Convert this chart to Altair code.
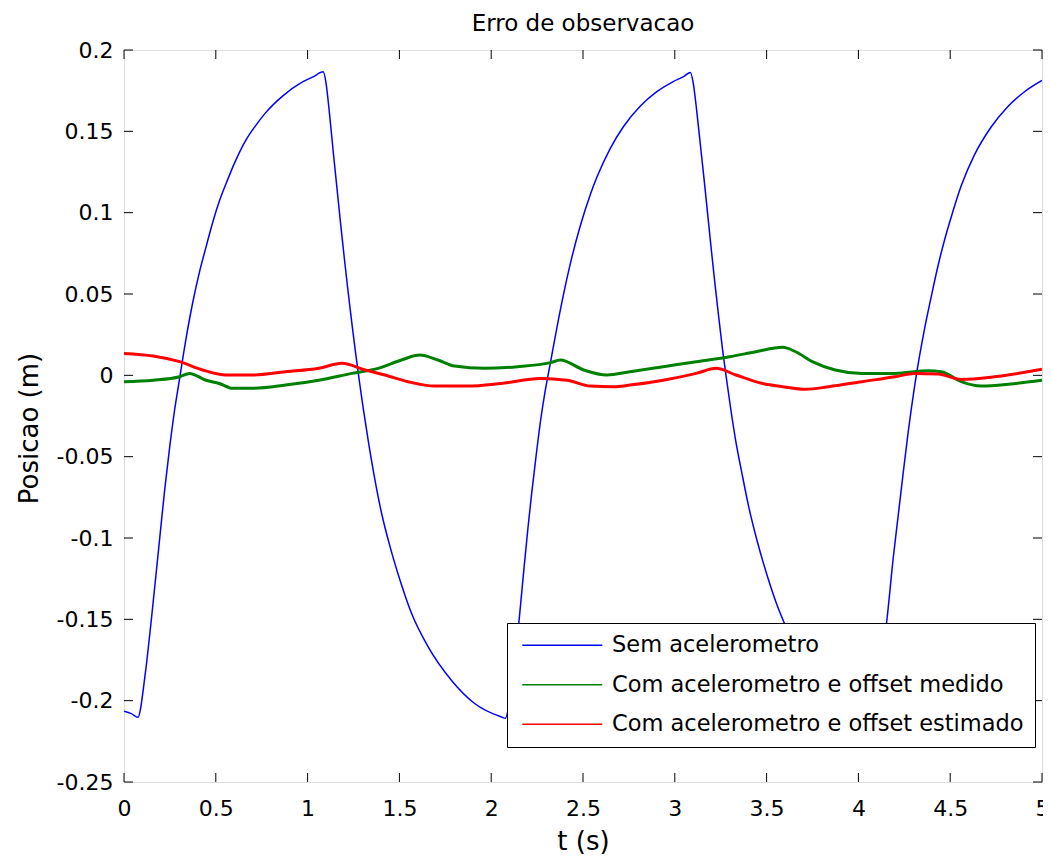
import altair as alt
import pandas as pd

# ---- data ----
t_blue = [0.0, 0.04, 0.077, 0.09, 0.105, 0.123, 0.15, 0.177, 0.20, 0.222, 0.249, 0.276, 0.30, 0.337,
          0.373, 0.41, 0.447, 0.483, 0.519, 0.56, 0.60, 0.664, 0.72, 0.772, 0.862, 0.97, 1.03, 1.085,
          1.10, 1.12, 1.14, 1.16, 1.18, 1.20, 1.22, 1.24, 1.26, 1.28, 1.30, 1.33, 1.367, 1.403, 1.449,
          1.503, 1.566, 1.656, 1.782, 1.908, 2.053, 2.078,
          2.10, 2.12, 2.14, 2.16, 2.18, 2.20, 2.22, 2.245, 2.27, 2.295, 2.323, 2.359, 2.395, 2.431, 2.485,
          2.54, 2.576, 2.648, 2.72, 2.81, 2.9, 2.991, 3.05, 3.085,
          3.10, 3.12, 3.14, 3.16, 3.18, 3.20, 3.22, 3.24, 3.26, 3.28, 3.30, 3.33, 3.367, 3.403, 3.449,
          3.503, 3.566, 3.656, 3.782, 3.908, 4.053, 4.078,
          4.10, 4.12, 4.14, 4.154, 4.19, 4.217, 4.244, 4.271, 4.307, 4.361, 4.398, 4.434, 4.47, 4.506,
          4.56, 4.632, 4.722, 4.812, 4.903, 5.0]
v_blue = [-0.2065, -0.208, -0.2102, -0.205, -0.193, -0.177, -0.149, -0.1195, -0.094, -0.070, -0.044,
          -0.021, -0.004, 0.022, 0.044, 0.063, 0.079, 0.094, 0.107, 0.119, 0.130, 0.1446, 0.154, 0.1615,
          0.1715, 0.1802, 0.1835, 0.1866,
          0.180, 0.160, 0.137, 0.115, 0.093, 0.072, 0.052, 0.033, 0.015, -0.002, -0.018, -0.040, -0.0644,
          -0.0848, -0.1053, -0.1258, -0.1463, -0.1668, -0.1873, -0.2016, -0.2099, -0.2108,
          -0.200, -0.184, -0.164, -0.141, -0.117, -0.094, -0.073, -0.049, -0.027, -0.009, 0.008, 0.030,
          0.0504, 0.0687, 0.0918, 0.1112, 0.1219, 0.1394, 0.1528, 0.1652, 0.1742, 0.1806, 0.1838, 0.1862,
          0.180, 0.162, 0.141, 0.120, 0.098, 0.076, 0.055, 0.035, 0.016, -0.001, -0.017, -0.039, -0.061,
          -0.081, -0.102, -0.123, -0.144, -0.1668, -0.1873, -0.2016, -0.2099, -0.2106,
          -0.199, -0.183, -0.164, -0.1515, -0.112, -0.086, -0.060, -0.035, -0.006, 0.029, 0.049, 0.0675,
          0.0835, 0.0975, 0.1165, 0.1355, 0.1525, 0.165, 0.1742, 0.1813]

t_green = [0, 0.159, 0.303, 0.357, 0.447, 0.519, 0.592, 0.70, 0.88, 1.061, 1.241, 1.385, 1.511, 1.611,
           1.71, 1.80, 1.962, 2.143, 2.323, 2.377, 2.504, 2.63, 2.756, 2.937, 3.117, 3.298, 3.442, 3.587,
           3.658, 3.749, 3.874, 4.019, 4.199, 4.38, 4.452, 4.56, 4.668, 4.83, 5.0]
v_green = [-0.0039, -0.003, -0.0009, 0.0012, -0.003, -0.005, -0.008, -0.008, -0.006, -0.003, 0.0012,
           0.0043, 0.0094, 0.0125, 0.0094, 0.0057, 0.0043, 0.0053, 0.0078, 0.0094, 0.0033, 0.0002, 0.0022,
           0.0053, 0.0084, 0.0114, 0.0145, 0.0172, 0.0145, 0.0084, 0.0033, 0.0012, 0.0012, 0.0028, 0.0022,
           -0.0039, -0.0066, -0.0053, -0.003]

t_red = [0, 0.159, 0.303, 0.429, 0.556, 0.70, 0.88, 1.061, 1.187, 1.313, 1.421, 1.547, 1.692, 1.872,
         2.053, 2.269, 2.413, 2.54, 2.666, 2.756, 2.937, 3.117, 3.225, 3.333, 3.478, 3.587, 3.713, 3.839,
         4.019, 4.199, 4.307, 4.434, 4.56, 4.74, 5.0]
v_red = [0.0135, 0.0119, 0.0084, 0.0033, 0.0002, 0.0002, 0.0022, 0.0043, 0.0074, 0.0033, 0.0002, -0.0039,
         -0.0066, -0.0066, -0.005, -0.002, -0.003, -0.0066, -0.007, -0.006, -0.003, 0.0012, 0.0043, 0.0002,
         -0.005, -0.007, -0.0086, -0.007, -0.0039, -0.0009, 0.0012, 0.0008, -0.0025, -0.0009, 0.0037]

series_names = ["Sem acelerometro", "Com acelerometro e offset medido", "Com acelerometro e offset estimado"]
series_colors = ["#0000ff", "#008000", "#ff0000"]
series_widths = [1.5, 3.0, 3.0]
x_ticks = [0, 0.5, 1, 1.5, 2, 2.5, 3, 3.5, 4, 4.5, 5]
y_ticks = [-0.25, -0.2, -0.15, -0.1, -0.05, 0, 0.05, 0.1, 0.15, 0.2]
title_text = "Erro de observacao"
x_title = "t (s)"
y_title = "Posicao (m)"

rows = []
for name, lw, ts, vs in zip(series_names, series_widths, [t_blue, t_green, t_red], [v_blue, v_green, v_red]):
    for t, v in zip(ts, vs):
        rows.append({"serie": name, "lw": lw, "t": t, "v": v})
df = pd.DataFrame(rows)

W, H = 918, 732
FONT = "DejaVu Sans"
TL = 9

xscale = alt.Scale(domain=[0, 5], nice=False, zero=False)
yscale = alt.Scale(domain=[-0.25, 0.2], nice=False, zero=False)

x_axis = alt.Axis(values=x_ticks, labelExpr="'' + datum.value", ticks=False, tickSize=0, domain=False,
                  grid=False, labelFont=FONT, labelFontSize=22, labelColor="black", labelPadding=16,
                  labelFlush=False, labelOverlap=False, title=x_title, titleFont=FONT, titleFontSize=26,
                  titleFontWeight="normal", titleColor="black", titleY=72, titleBaseline="bottom")
y_axis = alt.Axis(values=y_ticks, labelExpr="'' + datum.value", ticks=False, tickSize=0, domain=False,
                  grid=False, labelFont=FONT, labelFontSize=22, labelColor="black", labelPadding=11,
                  labelFlush=False, labelOverlap=False, title=y_title, titleFont=FONT,
                  titleFontSize=26, titleFontWeight="normal", titleColor="black", titleX=-82,
                  titleY=H / 2 + 12, titleBaseline="bottom", titleAngle=270)

legend = alt.Legend(title=None, orient="none", legendX=383, legendY=573, direction="vertical",
                    fillColor="white", strokeColor="black", padding=11,
                    symbolType="M-4,0H4", symbolSize=400, symbolStrokeWidth=1.5, symbolOffset=33,
                    labelFont=FONT, labelFontSize=22.5, labelColor="black", labelOffset=38.5,
                    labelLimit=1000, rowPadding=16.5, labelBaseline="middle")

lines = alt.Chart(df).mark_line(clip=True, interpolate="monotone").encode(
    x=alt.X("t:Q", scale=xscale, axis=x_axis),
    y=alt.Y("v:Q", scale=yscale, axis=y_axis),
    color=alt.Color("serie:N", scale=alt.Scale(domain=series_names, range=series_colors), legend=legend),
    strokeWidth=alt.StrokeWidth("lw:Q", scale=None, legend=None),
)

xt = pd.DataFrame({"t": x_ticks})
yt = pd.DataFrame({"v": y_ticks})
bottom_ticks = alt.Chart(xt).mark_rule(color="black", strokeWidth=1).encode(
    x=alt.X("t:Q", scale=xscale), y=alt.value(H), y2=alt.value(H - TL))
top_ticks = alt.Chart(xt).mark_rule(color="black", strokeWidth=1).encode(
    x=alt.X("t:Q", scale=xscale), y=alt.value(0), y2=alt.value(TL))
left_ticks = alt.Chart(yt).mark_rule(color="black", strokeWidth=1).encode(
    y=alt.Y("v:Q", scale=yscale), x=alt.value(0), x2=alt.value(TL))
right_ticks = alt.Chart(yt).mark_rule(color="black", strokeWidth=1).encode(
    y=alt.Y("v:Q", scale=yscale), x=alt.value(W), x2=alt.value(W - TL))

title_mark = alt.Chart(pd.DataFrame({"label": [title_text]})).mark_text(
    font=FONT, fontSize=23, color="black", align="center", baseline="alphabetic"
).encode(text="label:N", x=alt.value(W / 2), y=alt.value(-19))

chart = alt.layer(lines, bottom_ticks, top_ticks, left_ticks, right_ticks, title_mark).properties(
    width=W, height=H,
    padding={"left": 116, "top": 42, "right": 1, "bottom": 72},
    autosize=alt.AutoSizeParams(type="none"),
).configure_view(stroke="black", strokeWidth=1).configure(background="white")

chart.save("out.html", embed_options={"renderer": "svg", "actions": False})
